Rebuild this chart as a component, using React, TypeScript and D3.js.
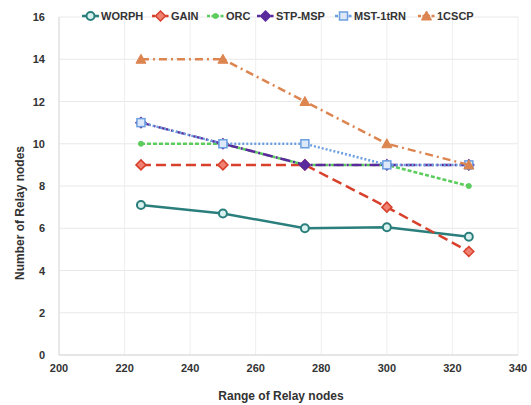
import React from "react";
import * as d3 from "d3";

const xValues = [225, 250, 275, 300, 325];
const seriesNames = ["WORPH", "GAIN", "ORC", "STP-MSP", "MST-1tRN", "1CSCP"];
const worph = [7.1, 6.7, 6.0, 6.05, 5.6];
const gain = [9, 9, 9, 7, 4.9];
const orc = [10, 10, 9, 9, 8];
const stpMsp = [11, 10, 9, 9, 9];
const mst1trn = [11, 10, 10, 9, 9];
const cscp = [14, 14, 12, 10, 9];
const xTicks = [200, 220, 240, 260, 280, 300, 320, 340];
const yTicks = [0, 2, 4, 6, 8, 10, 12, 14, 16];

const seriesValues = [worph, gain, orc, stpMsp, mst1trn, cscp];
const styles = [
  { color: "#2a7f7c", dash: "", marker: "circle", fill: "#d8f0ee" },
  { color: "#d8402c", dash: "10,5", marker: "diamond", fill: "#f08070" },
  { color: "#5ccc5c", dash: "4,2", marker: "dot", fill: "#5ccc5c" },
  { color: "#5b2a9c", dash: "10,3,2,3", marker: "diamond", fill: "#5b2a9c" },
  { color: "#6b9fe0", dash: "2,2", marker: "square", fill: "#dde8fb" },
  { color: "#dd8550", dash: "8,4,2,4", marker: "triangle", fill: "#dd8550" },
];
const legendX = [82, 152, 207, 257, 335, 418];

function Marker({ type, x, y, color, fill }: any) {
  if (type === "circle")
    return <circle cx={x} cy={y} r={4} fill={fill} stroke={color} strokeWidth={2} />;
  if (type === "diamond")
    return (
      <path d={`M${x},${y - 5}L${x + 5},${y}L${x},${y + 5}L${x - 5},${y}Z`} fill={fill} stroke={color} strokeWidth={1.5} />
    );
  if (type === "square")
    return <rect x={x - 4} y={y - 4} width={8} height={8} fill={fill} stroke={color} strokeWidth={1.5} />;
  if (type === "triangle")
    return (
      <path d={`M${x},${y - 5}L${x + 5},${y + 4}L${x - 5},${y + 4}Z`} fill={fill} stroke={color} strokeWidth={1} />
    );
  return <circle cx={x} cy={y} r={2.5} fill={fill} stroke={color} strokeWidth={1} />;
}

export default function App() {
  const W = 531, H = 405;
  const x = d3.scaleLinear().domain([200, 340]).range([59, 518]);
  const y = d3.scaleLinear().domain([0, 16]).range([355, 17]);
  const line = d3
    .line<number>()
    .x((_, i) => x(xValues[i]))
    .y((d) => y(d));
  const font = "Arial, 'Liberation Sans', sans-serif";

  return (
    <svg width={W} height={H} style={{ position: "absolute", left: 0, top: 0 }} fontFamily={font}>
      <rect x={0} y={0} width={W} height={H} fill="#fff" />
      {yTicks.map((t) => (
        <line key={"gy" + t} x1={x(200)} x2={x(340)} y1={y(t)} y2={y(t)} stroke="#e8e8e8" strokeWidth={1} />
      ))}
      {xTicks.map((t) => (
        <line key={"gx" + t} x1={x(t)} x2={x(t)} y1={y(0)} y2={y(16)} stroke="#eeeeee" strokeWidth={1} />
      ))}
      <line x1={x(200)} x2={x(200)} y1={y(0)} y2={y(16)} stroke="#d9d9d9" />
      <line x1={x(200)} x2={x(340)} y1={y(0)} y2={y(0)} stroke="#d9d9d9" />
      {yTicks.map((t) => (
        <text key={"ty" + t} x={x(200) - 14} y={y(t) + 4} textAnchor="end" fontSize={11} fontWeight="bold" fill="#333">
          {t}
        </text>
      ))}
      {xTicks.map((t) => (
        <text key={"tx" + t} x={x(t)} y={372} textAnchor="middle" fontSize={11} fontWeight="bold" fill="#333">
          {t}
        </text>
      ))}
      <text x={281} y={400} textAnchor="middle" fontSize={12} fontWeight="bold" fill="#333">
        Range of Relay nodes
      </text>
      <text
        transform={`translate(24,${213}) rotate(-90)`}
        textAnchor="middle"
        fontSize={12}
        fontWeight="bold"
        fill="#333"
      >
        Number of Relay nodes
      </text>
      {seriesValues.map((vals, si) => (
        <g key={"s" + si}>
          <path d={line(vals) || ""} fill="none" stroke={styles[si].color} strokeWidth={2.5} strokeDasharray={styles[si].dash} />
          {vals.map((v, i) => (
            <Marker key={i} type={styles[si].marker} x={x(xValues[i])} y={y(v)} color={styles[si].color} fill={styles[si].fill} />
          ))}
        </g>
      ))}
      {seriesNames.map((n, si) => (
        <g key={"l" + si}>
          <line x1={legendX[si]} x2={legendX[si] + 17} y1={16} y2={16} stroke={styles[si].color} strokeWidth={2.5} strokeDasharray={styles[si].dash ? "3,1.5" : ""} />
          <Marker type={styles[si].marker} x={legendX[si] + 8.5} y={16} color={styles[si].color} fill={styles[si].fill} />
          <text x={legendX[si] + 19} y={20} fontSize={11} fontWeight="bold" fill="#333">
            {n}
          </text>
        </g>
      ))}
    </svg>
  );
}
